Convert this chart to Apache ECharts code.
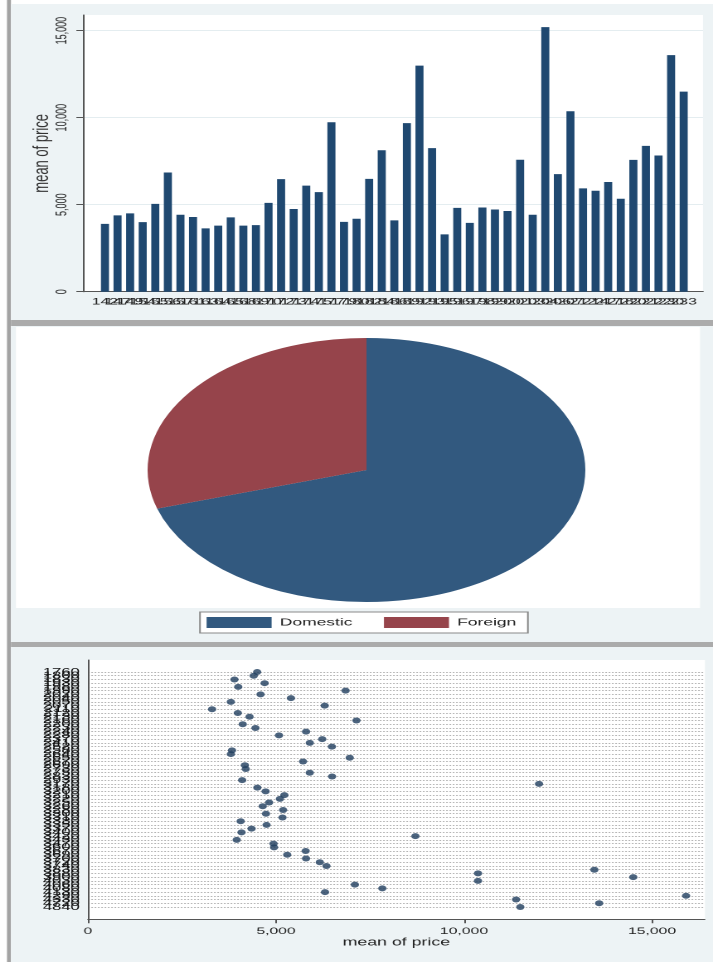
<!DOCTYPE html>
<html>
<head>
<meta charset="utf-8">
<script src="https://cdn.jsdelivr.net/npm/echarts@6/dist/echarts.min.js"></script>
<style>
  html, body { margin: 0; padding: 0; background: #fff; overflow: hidden; }
  #wrap { width: 713px; height: 962px; overflow: hidden; position: relative; }
  /* the graph is laid out on a narrow canvas and widened, like the exported combined graph */
  #chart { width: 430px; height: 962px; transform-origin: 0 0; transform: scaleX(1.65814); }
</style>
</head>
<body>
<div id="wrap"><div id="chart"></div></div>
<script>
// Mean price by car length (in.)
const lengthLabels = ['142','147','149','154','155','156','157','161','163','164',
  '165','168','169','170','172','173','174','175','177','179',
  '180','182','184','186','189','192','193','195','196','197',
  '198','199','200','201','203','204','206','207','212','214',
  '217','218','220','221','222','230','233'];
const priceByLength = [3895, 4389, 4499, 3995, 5047, 6850, 4425, 4296, 3642, 3798,
  4273, 3799, 3829, 5102, 6470, 4749, 6097, 5719, 9735, 4009,
  4195, 6486, 8129, 4099, 9690, 12990, 8250, 3291, 4816, 3955,
  4839, 4723, 4639, 7583, 4424, 15203, 6756, 10372, 5935, 5798,
  6303, 5339, 7578, 8382, 7827, 13594, 11497];

// Car origin counts
const pieNames = ['Domestic', 'Foreign'];
const pieCounts = [52, 22];
const pieColors = ['#32597f', '#96444b'];

// Mean price by weight (lbs.)
const weightLabels = ['1760','1800','1830','1930','1980','1990','2020','2040','2050','2070',
  '2110','2120','2130','2160','2200','2230','2240','2280','2370','2410',
  '2520','2580','2640','2650','2670','2690','2730','2750','2830','2930',
  '3170','3180','3200','3210','3220','3250','3260','3280','3300','3310',
  '3330','3350','3370','3400','3420','3430','3470','3600','3670','3690',
  '3700','3720','3740','3830','3880','3900','4030','4060','4080','4130',
  '4290','4330','4720','4840'];
const priceByWeight = [4499, 4407, 3895, 4697, 3995, 6850, 4589, 5397, 3798, 6295,
  3299, 3984, 4296, 7140, 4115, 4453, 5799, 5079, 6229, 5899,
  6486, 3829, 3799, 6961, 5719, 4172, 4195, 5898, 6491, 4099,
  11995, 4504, 4723, 5222, 5104, 4816, 4647, 5189, 4733, 5172,
  4060, 4749, 4349, 4082, 8707, 3955, 4934, 4948, 5788, 5298,
  5798, 6165, 6342, 13466, 10372, 14500, 10371, 7097, 7827, 6303,
  15906, 11385, 13594, 11497];

const priceTicks = [0, 5000, 10000, 15000];

const FONT = 'Liberation Sans, Arial, sans-serif';
const INK = '#222';
const AXIS = '#555';
const PANEL = '#edf3f5';
const SEP = '#ababab';
const fmt = v => Math.round(v).toLocaleString('en-US');

function rect(x, y, w, h, fill) {
  return { type: 'rect', z: -10, silent: true, shape: { x, y, width: w, height: h }, style: { fill } };
}

const chart = echarts.init(document.getElementById('chart'), null, { renderer: 'canvas', devicePixelRatio: 2 });

chart.setOption({
  animation: false,
  backgroundColor: '#ffffff',
  textStyle: { fontFamily: FONT, color: INK },
  graphic: [
    rect(4.2, 0, 2.4, 962, '#a3a3a3'),
    // top panel
    rect(6.6, 4, 424, 316, PANEL),
    rect(50.06, 15, 373.9, 276.7, '#ffffff'),
    rect(6.6, 320, 424, 6, SEP),
    // middle panel
    rect(6.6, 326, 424, 316, PANEL),
    rect(9.6, 327, 412.6, 281, '#ffffff'),
    rect(6.6, 642, 424, 5, SEP),
    // bottom panel
    rect(6.6, 647, 424, 315, PANEL),
    rect(53.07, 660, 372.1, 259.3, '#ffffff')
  ],
  legend: {
    left: 120.6, top: 612,
    orient: 'horizontal',
    data: pieNames,
    icon: 'rect',
    itemWidth: 39.2, itemHeight: 11, itemGap: 19,
    padding: [5, 7, 5, 4],
    borderColor: '#8a8a8a', borderWidth: 1, borderRadius: 0,
    backgroundColor: '#ffffff',
    selectedMode: false,
    textStyle: { fontSize: 10.5, color: INK, fontFamily: FONT }
  },
  grid: [
    { left: 59.5, top: 15, width: 356.6, height: 276.7 },   // bars
    { left: 50.06, top: 15, width: 373.9, height: 276.7 },  // bar chart frame
    { left: 53.07, top: 672, width: 371.9, height: 235 },   // dots
    { left: 53.07, top: 660, width: 371.9, height: 259.3 }  // dot chart frame
  ],
  xAxis: [
    {
      type: 'category', gridIndex: 0, data: lengthLabels,
      axisLine: { show: false }, axisTick: { show: false },
      axisLabel: { interval: 0, fontSize: 9.5, color: INK, margin: 5, fontFamily: FONT },
      splitLine: { show: false }
    },
    {
      type: 'value', gridIndex: 1, min: 0, max: 1,
      axisLine: { show: true, lineStyle: { color: AXIS, width: 1 } },
      axisTick: { show: false }, axisLabel: { show: false }, splitLine: { show: false }
    },
    { type: 'value', gridIndex: 2, min: 0, max: 16400, show: false },
    {
      type: 'value', gridIndex: 3, min: 0, max: 16400, interval: 5000,
      axisLine: { show: true, lineStyle: { color: AXIS, width: 1 } },
      axisTick: { show: true, length: 4, customValues: priceTicks, lineStyle: { color: AXIS } },
      axisLabel: { customValues: priceTicks, formatter: fmt, fontSize: 9.5, color: INK, margin: 7, fontFamily: FONT },
      splitLine: { show: false },
      name: 'mean of price', nameLocation: 'middle', nameGap: 18,
      nameTextStyle: { fontSize: 10.7, color: INK, fontFamily: FONT }
    }
  ],
  yAxis: [
    { type: 'value', gridIndex: 0, min: 0, max: 15900, show: false },
    {
      type: 'value', gridIndex: 1, min: 0, max: 15900, interval: 5000,
      axisLine: { show: true, lineStyle: { color: AXIS, width: 1 } },
      axisTick: { show: true, length: 4, customValues: priceTicks, lineStyle: { color: AXIS } },
      axisLabel: { customValues: priceTicks, formatter: fmt, rotate: 90, fontSize: 9, color: INK, margin: 8, fontFamily: FONT },
      splitLine: { show: true, lineStyle: { color: '#e4edf0', width: 1 } },
      name: 'mean of price', nameLocation: 'middle', nameGap: 18, nameMoveOverlap: false,
      nameTextStyle: { fontSize: 13, color: '#333', fontFamily: FONT }
    },
    {
      type: 'category', gridIndex: 2, data: weightLabels, inverse: true, boundaryGap: false,
      axisLine: { show: false }, axisTick: { show: false },
      axisLabel: { interval: 0, fontSize: 10, color: '#111', margin: 5, fontFamily: FONT },
      splitLine: { show: true, interval: 0, lineStyle: { type: [1, 1], color: '#b4b4b4', width: 1 } }
    },
    {
      type: 'value', gridIndex: 3, min: 0, max: 1,
      axisLine: { show: true, lineStyle: { color: AXIS, width: 1 } },
      axisTick: { show: false }, axisLabel: { show: false }, splitLine: { show: false }
    }
  ],
  series: [
    {
      type: 'bar', xAxisIndex: 0, yAxisIndex: 0,
      data: priceByLength,
      barWidth: '64%',
      itemStyle: { color: '#1f4870' },
      silent: true
    },
    {
      type: 'pie',
      center: [221.0, 470], radius: 132,
      startAngle: 90, clockwise: true,
      label: { show: false }, labelLine: { show: false },
      itemStyle: { borderWidth: 0 },
      emphasis: { disabled: true },
      silent: true,
      data: pieNames.map((n, i) => ({ name: n, value: pieCounts[i], itemStyle: { color: pieColors[i] } }))
    },
    {
      type: 'scatter', xAxisIndex: 2, yAxisIndex: 2,
      data: weightLabels.map((w, i) => [priceByWeight[i], w]),
      symbol: 'circle', symbolSize: [5, 6],
      itemStyle: { color: '#1f3d5e' },
      silent: true
    }
  ]
});
</script>
</body>
</html>
